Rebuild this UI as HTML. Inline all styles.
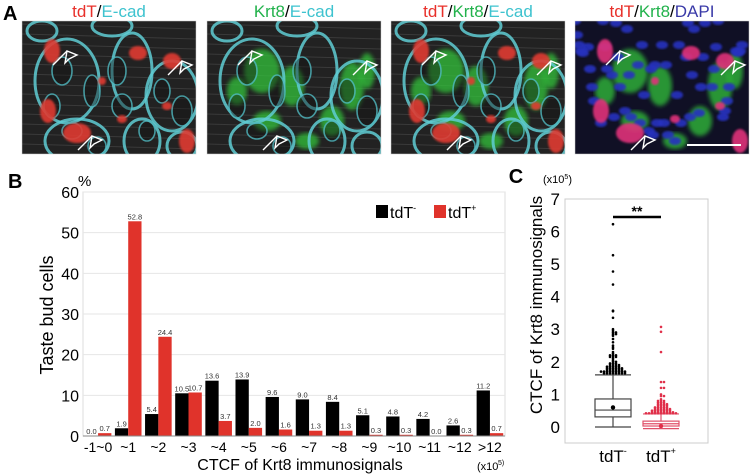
<!DOCTYPE html>
<html><head><meta charset="utf-8"><style>
html,body{margin:0;padding:0;background:#fff;}
body{width:750px;height:475px;overflow:hidden;position:relative;font-family:"Liberation Sans",sans-serif;}
svg{position:absolute;left:0;top:0;}
</style></head><body>
<svg id="fig" width="750" height="475" viewBox="0 0 750 475" font-family="Liberation Sans, sans-serif">
<defs>
<filter id="blur2"><feGaussianBlur stdDeviation="2"/></filter>
<filter id="blur1"><feGaussianBlur stdDeviation="1"/></filter>
</defs>
<text x="3" y="20" font-size="20" font-weight="bold">A</text>
<g id="micro"></g>
<g id="bar"></g>
<g id="box"></g>
</svg>
<script>
// ---------- Bar chart data ----------
const categories=["-1~0","~1","~2","~3","~4","~5","~6","~7","~8","~9","~10","~11","~12",">12"];
const tdTneg=[0.0,1.9,5.4,10.5,13.6,13.9,9.6,9.0,8.4,5.1,4.8,4.2,2.6,11.2];
const tdTpos=[0.7,52.8,24.4,10.7,3.7,2.0,1.6,1.3,1.3,0.3,0.3,0.0,0.3,0.7];
const yTicks=[0,10,20,30,40,50,60];
// ---------- Box plot data ----------
const boxGroups=["tdT-","tdT+"];
const boxStats=[{lo:0.0,q1:0.31,med:0.52,q3:0.86,hi:1.6,mean:0.6},{lo:-0.05,q1:0.03,med:0.1,q3:0.18,hi:0.4,mean:0.03}];
const outNeg=[6.22,5.27,4.77,4.37,3.57,3.55,3.35,3.0,2.95,2.9,2.9,2.85,2.85,2.8,2.7,2.6,2.5,2.45,2.4,2.3,2.25,2.2,2.2,2.2,2.15,2.15,2.15,2.1,2.05,2.0,2.0,1.95,1.95,1.95,1.9,1.9,1.9,1.9,1.85,1.85,1.85,1.85,1.85,1.8,1.8,1.8,1.8,1.8,1.8,1.75,1.75,1.75,1.75,1.75,1.75,1.7,1.7,1.7,1.7,1.7,1.7,1.7,1.7,1.7,1.65,1.65,1.65,1.65,1.65,1.65,1.65,1.65];
const outPos=[3.07,2.92,2.3,1.38,1.38,1.2,1.2,1.0,0.95,0.95,0.85,0.8,0.8,0.8,0.75,0.75,0.75,0.7,0.7,0.7,0.7,0.65,0.65,0.65,0.65,0.6,0.6,0.6,0.6,0.6,0.55,0.55,0.55,0.55,0.55,0.55,0.5,0.5,0.5,0.5,0.5,0.5,0.5,0.45,0.45,0.45,0.45,0.45,0.45,0.45,0.45,0.42,0.42,0.42,0.42,0.42,0.42,0.42,0.42,0.42,0.42,0.42];
const boxTicks=[0,1,2,3,4,5,6,7];

const NS="http://www.w3.org/2000/svg";
function mk(tag,attrs,parent){const e=document.createElementNS(NS,tag);for(const k in attrs)e.setAttribute(k,attrs[k]);parent.appendChild(e);return e;}

// ---------- Micrographs ----------
const micro=document.getElementById('micro');
const panels=[{x:22,t:[["tdT","#e8302a"],["/","#000"],["E-cad","#3ec3cf"]],red:1,green:0,cyan:1,blue:0},
{x:207,t:[["Krt8","#22b24c"],["/","#000"],["E-cad","#3ec3cf"]],red:0,green:1,cyan:1,blue:0},
{x:391,t:[["tdT","#e8302a"],["/","#000"],["Krt8","#22b24c"],["/","#000"],["E-cad","#3ec3cf"]],red:1,green:1,cyan:1,blue:0},
{x:575,t:[["tdT","#e8302a"],["/","#000"],["Krt8","#22b24c"],["/","#000"],["DAPI","#3a3aa8"]],red:1,green:1,cyan:0,blue:1}];
const redSpots=[[30,50,8,12],[26,110,8,12],[55,132,14,10],[116,52,9,7],[150,60,9,8],[165,140,8,12],[100,118,5,4],[80,80,4,4],[145,105,5,4]];
const greenSpots=[[55,70,18,22],[85,85,12,20],[145,85,12,24],[125,120,12,15],[60,120,14,10],[100,140,12,8],[160,70,8,18],[30,90,10,14]];
const cells=[[45,80,32,42],[110,70,20,38],[55,140,32,22],[150,95,26,35],[120,140,18,22],[160,145,15,14],[20,30,15,10],[90,25,20,10]];
const smallCells=[[40,60,10,14],[70,80,8,16],[95,60,9,14],[100,95,10,12],[140,80,8,12],[160,100,10,15],[50,120,10,8],[75,135,9,9],[125,120,8,10],[30,95,8,12]];
panels.forEach((p,i)=>{
  const g=mk('g',{},micro);
  
  
  const tt=mk('text',{x:p.x+87,y:17,'font-size':17,'text-anchor':'middle'},g);
  p.t.forEach(s=>{const ts=mk('tspan',{fill:s[1]},tt);ts.textContent=s[0];});
  
  
  const W=174,H=133,y0=21;
  const clip='c'+i;
  const cp=mk('clipPath',{id:clip},g);mk('rect',{x:p.x,y:y0,width:W,height:H},cp);
  const inner=mk('g',{'clip-path':'url(#'+clip+')'},g);
  mk('rect',{x:p.x,y:y0,width:W,height:H,fill:p.blue?'#101025':'#222'},inner);
  if(!p.blue){for(let k=0;k<14;k++){mk('line',{x1:p.x,y1:y0+k*10+3,x2:p.x+W,y2:y0+k*10+8,stroke:'#3a3a3a','stroke-width':1},inner);}}
  if(p.green){greenSpots.forEach(s=>mk('ellipse',{cx:p.x+s[0],cy:y0+s[1]-20,rx:s[2],ry:s[3],fill:'#30c23a',opacity:0.75,filter:'url(#blur2)'},inner));}
  if(p.blue){for(let k=0;k<60;k++){const cx=((k*37)%172),cy=((k*53+k*k)%132);mk('ellipse',{cx:p.x+cx,cy:y0+cy,rx:6,ry:4,fill:'#2832c0',opacity:0.9,filter:'url(#blur1)'},inner);}}
  if(p.cyan){cells.forEach(c=>mk('ellipse',{cx:p.x+c[0],cy:y0+c[1]-20,rx:c[2],ry:c[3],fill:'none',stroke:'#5fcdd3',"stroke-width":3,opacity:0.85},inner));
    smallCells.forEach(c=>mk('ellipse',{cx:p.x+c[0],cy:y0+c[1]-10,rx:c[2],ry:c[3],fill:'#111','fill-opacity':0.5,stroke:'#4fb8c0',"stroke-width":1.6,opacity:0.8},inner));}
  if(p.red){redSpots.forEach(s=>mk('ellipse',{cx:p.x+s[0],cy:y0+s[1]-20,rx:s[2],ry:s[3],fill:p.blue?'#e0307a':'#e03a30',opacity:0.9,filter:'url(#blur1)'},inner));}
  [[45,30],[160,40],[70,115]].forEach(a=>{
    const ax=p.x+a[0],ay=y0+a[1];
    mk('path',{d:`M${ax-14},${ay+14} L${ax},${ay} M${ax},${ay} l-2,12 l4,-4 l8,-4 z`,stroke:'#fff','stroke-width':1.4,fill:'none'},inner);
  });
  if(i===3){mk('line',{x1:p.x+112,y1:y0+124,x2:p.x+166,y2:y0+124,stroke:'#fff','stroke-width':2},inner);}
  mk('rect',{x:p.x,y:y0,width:W,height:H,fill:'none',stroke:'#ccc','stroke-width':0.5},g);
});

// ---------- Bar chart ----------
const bar=document.getElementById('bar');
const bx0=83,bx1=505,by0=436,by1=192,ymax=60;
const ys=v=>by0-(v/ymax)*(by0-by1);
const step=(bx1-bx0)/categories.length;
const xs=i=>bx0+step*i;
mk('rect',{x:bx0,y:by1,width:bx1-bx0,height:by0-by1,fill:'none',stroke:'#ddd'},bar);
yTicks.forEach(t=>{
  const gl=mk('line',{x1:bx0,x2:bx1,y1:ys(t),y2:ys(t),stroke:'#e6e6e6'},bar);
  
  
  const tl=mk('text',{x:bx0-4,y:ys(t)+6,'font-size':16,'text-anchor':'end'},bar);tl.textContent=t;
  
  
});
const bw=13.3;
categories.forEach((c,i)=>{
  const cx=xs(i)+step/2;
  [[tdTneg[i],'#000',cx-bw],[tdTpos[i],'#e0332b',cx]].forEach((d,j)=>{
    const r=mk('rect',{x:d[2],y:ys(d[0]),width:bw,height:by0-ys(d[0]),fill:d[1]},bar);
    
    
    const vl=mk('text',{x:d[2]+bw/2,y:ys(d[0])-2,'font-size':7.5,'text-anchor':'middle',fill:'#333'},bar);vl.textContent=d[0].toFixed(1);
    
    
  });
  const xl=mk('text',{x:cx,y:452,'font-size':14,'text-anchor':'middle'},bar);xl.textContent=c;
  
  
});
mk('line',{x1:bx0,x2:bx1,y1:by0,y2:by0,stroke:'#888'},bar);
[['B',8,188,20,'bold','start','panel-b-label'],['%',78,186,15,'normal','start','y-unit-label'],['CTCF of Krt8 immunosignals',300,470,16,'normal','middle','x-axis-title'],['(x10',477,470,11,'normal','start','x-unit-label']].forEach(a=>{
  const t=mk('text',{x:a[1],y:a[2],'font-size':a[3],'font-weight':a[4],'text-anchor':a[5]},bar);t.textContent=a[0];
  
  
});
const sup=mk('text',{x:498,y:465,'font-size':7},bar);sup.textContent='5)';
const yt=mk('text',{x:0,y:0,'font-size':18,'text-anchor':'middle',transform:'translate(53,315) rotate(-90)'},bar);yt.textContent='Taste bud cells';


const lg=mk('g',{},bar);


mk('rect',{x:376,y:205,width:12,height:13,fill:'#000'},lg);
let lt=mk('text',{x:390,y:218,'font-size':16},lg);lt.innerHTML='tdT<tspan font-size="9" dy="-7">-</tspan>';
mk('rect',{x:434,y:205,width:12,height:13,fill:'#e0332b'},lg);
lt=mk('text',{x:448,y:218,'font-size':16},lg);lt.innerHTML='tdT<tspan font-size="9" dy="-7">+</tspan>';

// ---------- Box plot ----------
const box=document.getElementById('box');
const px0=565,px1=708,pTop=199,pBot=443,v0y=427,unit=32.6;
const vy=v=>v0y-v*unit;
mk('rect',{x:px0,y:pTop,width:px1-px0,height:pBot-pTop,fill:'none',stroke:'#ccc'},box);
boxTicks.forEach(t=>{const tl=mk('text',{x:px0-5,y:vy(t)+6,'font-size':17,'text-anchor':'end'},box);tl.textContent=t;
  
  });
const gx=[613,661],bhw=18;
boxGroups.forEach((gname,i)=>{
  const s=boxStats[i],col=i?'#e0506a':'#444',cx=gx[i];
  const g=mk('g',{stroke:col,fill:'none','stroke-width':1.2},box);
  
  
  mk('line',{x1:cx,x2:cx,y1:vy(s.lo),y2:vy(s.hi)},g);
  mk('line',{x1:cx-bhw,x2:cx+bhw,y1:vy(s.hi),y2:vy(s.hi)},g);
  mk('line',{x1:cx-bhw,x2:cx+bhw,y1:vy(s.lo),y2:vy(s.lo)},g);
  mk('rect',{x:cx-bhw,y:vy(s.q3),width:2*bhw,height:vy(s.q1)-vy(s.q3),fill:'#fff'},g);
  mk('line',{x1:cx-bhw,x2:cx+bhw,y1:vy(s.med),y2:vy(s.med)},g);
  mk('circle',{cx:cx,cy:vy(s.mean),r:2.2,fill:i?'#e0304a':'#000',stroke:'none'},g);
  const outs=i?outPos:outNeg;const counts={};
  outs.forEach(v=>{const k=v.toFixed(2);const n=counts[k]||0;counts[k]=n+1;
    const off=(n%2?1:-1)*Math.ceil(n/2)*3;
    const d=mk('circle',{cx:cx+off,cy:vy(v),r:1.3,fill:i?'#e0304a':'#000',stroke:'none'},box);
    
    });
  const xl=mk('text',{x:cx,y:462,'font-size':17,'text-anchor':'middle'},box);xl.innerHTML=(i?'tdT<tspan font-size="9" dy="-8">+</tspan>':'tdT<tspan font-size="9" dy="-8">-</tspan>');
  
  
});
mk('line',{x1:613,x2:661,y1:217,y2:217,stroke:'#000','stroke-width':2.5},box);
[['**',637,216,14,'bold','significance-marker'],['C',516,183,20,'bold','panel-c-label']].forEach(a=>{
  const t=mk('text',{x:a[1],y:a[2],'font-size':a[3],'font-weight':a[4],'text-anchor':'middle'},box);t.textContent=a[0];
  
  
});
const u=mk('text',{x:543,y:183,'font-size':11},box);u.innerHTML='(x10<tspan font-size="7" dy="-4">5</tspan><tspan dy="4">)</tspan>';


const byt=mk('text',{x:0,y:0,'font-size':17,'text-anchor':'middle',transform:'translate(542,305) rotate(-90)'},box);byt.textContent='CTCF of Krt8 immunosignals';


</script>
</body></html>
